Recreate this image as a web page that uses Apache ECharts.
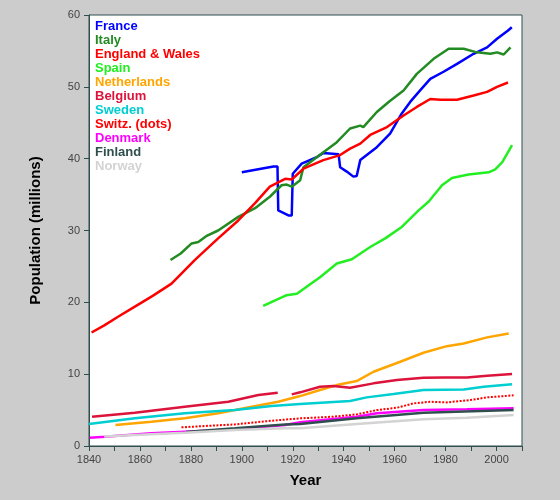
<!DOCTYPE html>
<html>
<head>
<meta charset="utf-8">
<script src="https://cdn.jsdelivr.net/npm/echarts@6/dist/echarts.min.js"></script>
<style>
html,body{margin:0;padding:0;background:#cccccc;}
#c{width:560px;height:500px;}
</style>
</head>
<body>
<div id="c"></div>
<script>
// Data: [year, population in millions]
const france = [[1900,38.1],[1912.4,38.9],[1914,38.9],[1914.3,32.8],[1918.3,32.1],[1919.6,32.1],[1920,37.9],[1923.5,39.3],[1929.4,40.2],[1932,40.8],[1938,40.6],[1938.6,38.8],[1941.2,38.2],[1943.8,37.5],[1945.1,37.6],[1946.5,39.8],[1953,41.6],[1958.2,43.5],[1962.8,46.3],[1966.1,47.9],[1970,49.5],[1974,51.1],[1979.2,52.1],[1984.5,53.2],[1991,54.6],[1996.3,55.5],[2000.2,56.7],[2004.4,57.8],[2006,58.3]];
const italy = [[1872,25.9],[1876,26.8],[1880.3,28.2],[1882.9,28.4],[1886,29.2],[1890.7,30.0],[1898.6,31.9],[1905.2,33.1],[1911,34.7],[1915.6,36.3],[1917.6,36.4],[1919.6,36.1],[1922.9,37.0],[1924.2,38.8],[1929.4,40.2],[1937.3,42.3],[1942.5,44.2],[1946.5,44.6],[1947.7,44.4],[1953,46.5],[1958,48.0],[1963.5,49.5],[1968.7,51.8],[1975.3,53.9],[1981.2,55.3],[1987.1,55.3],[1992.3,54.8],[1997.6,54.6],[2000.2,54.8],[2002.8,54.5],[2005.5,55.5]];
const englandWales = [[1841,15.8],[1846,16.8],[1851.4,18.0],[1858,19.4],[1865,20.9],[1872.4,22.6],[1881.6,25.9],[1890.7,28.9],[1898.6,31.4],[1905.2,33.8],[1911,36.1],[1917,37.2],[1919.6,37.1],[1924.2,38.6],[1932,39.8],[1938.6,40.5],[1942.5,41.4],[1946.5,42.1],[1950.4,43.3],[1957,44.4],[1963.5,46.0],[1968.7,47.2],[1974,48.3],[1977.9,48.2],[1984.5,48.2],[1991,48.8],[1996.3,49.3],[2000.2,50.0],[2004.5,50.6]];
const spain = [[1908.4,19.5],[1917.6,21.0],[1921.6,21.2],[1930.7,23.5],[1937.3,25.4],[1943.2,26.0],[1950.4,27.7],[1956.3,28.9],[1962.8,30.5],[1969.4,32.8],[1973.3,34.0],[1978.6,36.3],[1982.5,37.3],[1989,37.8],[1996.9,38.1],[1999.5,38.5],[2002.2,39.5],[2006.1,41.9]];
const netherlands = [[1850.4,2.92],[1864.5,3.38],[1877.6,3.85],[1890.7,4.55],[1903.9,5.47],[1914.3,6.16],[1922.9,6.95],[1930.7,7.79],[1937.3,8.48],[1945.1,9.04],[1951.7,10.34],[1962.2,11.73],[1971.3,12.98],[1980.5,13.9],[1987.1,14.28],[1996.3,15.12],[2004.8,15.67]];
const belgium = [[1841.2,4.08],[1858,4.64],[1877.6,5.47],[1894.7,6.16],[1906.5,7.09],[1914.1,7.42],[1916,'-'],[1919.6,7.19],[1922.9,7.47],[1930.7,8.25],[1936,8.34],[1942.5,8.11],[1951.7,8.72],[1960.9,9.18],[1971.3,9.5],[1979.2,9.55],[1988.4,9.55],[1996.3,9.78],[2006.1,10.01]];
const sweden = [[1840,3.06],[1858,3.85],[1877.6,4.55],[1897.3,5.0],[1911.7,5.56],[1922.9,5.84],[1942.5,6.26],[1949,6.77],[1959.6,7.23],[1971.3,7.79],[1987.1,7.88],[1995,8.25],[2006.1,8.58]];
const switz = [[1876.3,2.6],[1897.3,3.01],[1911.7,3.52],[1922.9,3.85],[1936,4.08],[1945.1,4.4],[1953,5.0],[1960.9,5.33],[1967.4,5.93],[1974,6.16],[1980.5,6.07],[1989.7,6.4],[1996.3,6.77],[2006.7,7.05]];
const denmark = [[1840.3,1.16],[1846.2,1.3],[1864.5,1.76],[1877.6,1.99],[1897.3,2.32],[1917,2.92],[1922.9,3.3],[1945.1,4.08],[1953,4.55],[1971.3,5.0],[1988.4,5.1],[2006.7,5.24]];
const finland = [[1878,1.95],[1897.3,2.46],[1917,3.0],[1922.9,3.06],[1945.1,3.85],[1971.3,4.63],[2006.7,5.0]];
const norway = [[1846,1.32],[1858,1.53],[1877.6,1.85],[1897.3,2.22],[1917,2.46],[1922.9,2.46],[1945.1,3.06],[1971.3,3.71],[1988.4,3.94],[2006.7,4.31]];

const names = ['France','Italy','England & Wales','Spain','Netherlands','Belgium','Sweden','Switz. (dots)','Denmark','Finland','Norway'];
const colors = ['#0000ff','#228b22','#ff0000','#22ee22','#ffa500','#dc143c','#00ced1','#ff0000','#ff00ff','#2f4f4f','#d3d3d3'];
const datasets = [france, italy, englandWales, spain, netherlands, belgium, sweden, switz, denmark, finland, norway];

const axisColor = '#2f4f4f';
const chart = echarts.init(document.getElementById('c'), null, {renderer:'canvas'});
chart.setOption({
  backgroundColor: '#cccccc',
  animation: false,
  grid: {left: 89, right: 38, top: 15, bottom: 54, show: true, backgroundColor: '#ffffff', borderColor: axisColor, borderWidth: 1},
  legend: {
    orient: 'vertical', left: 85, top: 14, itemGap: 0, itemWidth: 0, itemHeight: 14, icon: 'none',
    selectedMode: false,
    textStyle: {fontSize: 13, fontWeight: 'bold', fontFamily: 'Liberation Sans, Arial, sans-serif', lineHeight: 14},
    data: names.map((n, i) => ({name: n, textStyle: {color: colors[i]}}))
  },
  xAxis: {
    type: 'value', min: 1840, max: 2010, interval: 10,
    name: 'Year', nameLocation: 'middle', nameGap: 27,
    nameTextStyle: {fontSize: 15, fontWeight: 'bold', color: '#000', fontFamily: 'Liberation Sans, Arial, sans-serif'},
    axisLine: {lineStyle: {color: axisColor}},
    axisTick: {length: 5, lineStyle: {color: axisColor}},
    splitLine: {show: false},
    axisLabel: {fontSize: 11, color: '#444', margin: 8, fontFamily: 'Liberation Sans, Arial, sans-serif',
      formatter: v => (v % 20 === 0 && v < 2010) ? String(v) : ''}
  },
  yAxis: {
    type: 'value', min: 0, max: 60, interval: 10,
    name: 'Population (millions)', nameLocation: 'middle', nameGap: 46,
    nameTextStyle: {fontSize: 15, fontWeight: 'bold', color: '#000', fontFamily: 'Liberation Sans, Arial, sans-serif'},
    axisLine: {show: true, lineStyle: {color: axisColor}},
    axisTick: {show: true, length: 5, lineStyle: {color: axisColor}},
    splitLine: {show: false},
    axisLabel: {fontSize: 11, color: '#444', margin: 9, fontFamily: 'Liberation Sans, Arial, sans-serif'}
  },
  series: names.map((n, i) => ({
    name: n, type: 'line', data: datasets[i], showSymbol: false, symbol: 'none',
    connectNulls: false, smooth: false,
    lineStyle: {color: colors[i], width: i === 7 ? 2 : 2.5, type: i === 7 ? [2, 1.5] : 'solid'},
    itemStyle: {color: colors[i]}
  }))
});
</script>
</body>
</html>
